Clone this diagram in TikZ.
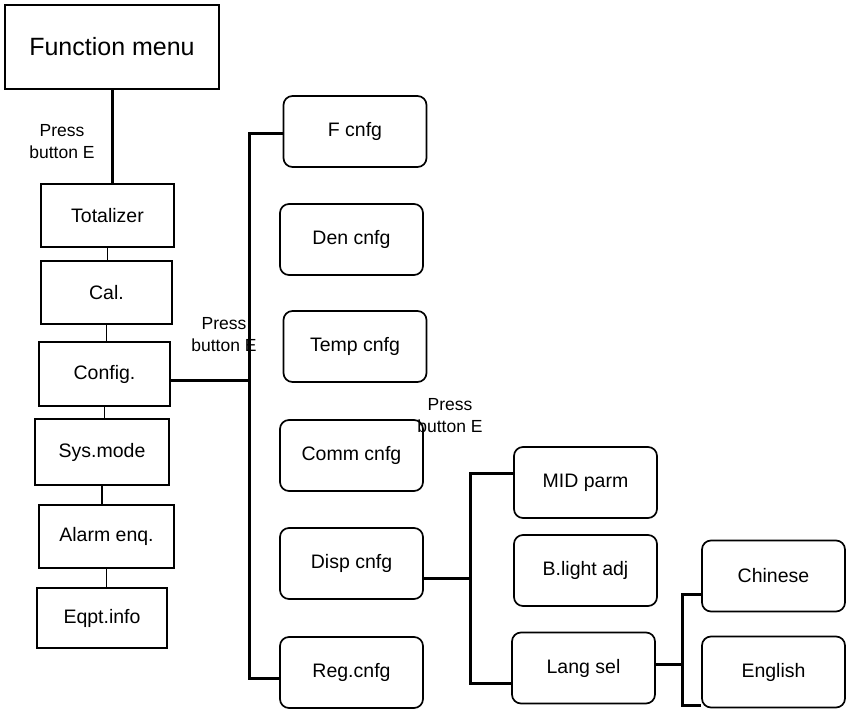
\documentclass[tikz,border=0pt]{standalone}
\usepackage{fontspec}
\setmainfont{Liberation Sans}
\begin{document}
\begin{tikzpicture}[x=1pt,y=-1pt,
  sqbox/.style={draw=black, line width=1.7pt, inner sep=0pt, font=\fontsize{19.5}{22}\selectfont},
  rbox/.style={draw=black, line width=1.7pt, rounded corners=9pt, inner sep=0pt, minimum width=143pt, minimum height=71pt, font=\fontsize{19.5}{22}\selectfont},
  thin/.style={line width=1.8pt},
  bus/.style={line width=3pt},
  lbl/.style={align=center, inner sep=0pt, font=\fontsize{17.5}{22}\selectfont}]
\useasboundingbox[fill=white] (0,0) rectangle (846,711);
% left column
\node[sqbox, minimum width=214pt, minimum height=84pt, font=\fontsize{25}{28}\selectfont] (fm) at (112,47) {Function menu};
\node[sqbox, minimum width=133pt, minimum height=63pt] (tot) at (107.5,215.5) {Totalizer};
\node[sqbox, minimum width=131pt, minimum height=63pt] (cal) at (106.5,292.5) {Cal.};
\node[sqbox, minimum width=131pt, minimum height=64pt] (cfg) at (104.5,374) {Config.};
\node[sqbox, minimum width=134pt, minimum height=66pt] (sys) at (102,452) {Sys.mode};
\node[sqbox, minimum width=135pt, minimum height=63pt] (alm) at (106.5,536.5) {Alarm enq.};
\node[sqbox, minimum width=130pt, minimum height=60pt] (eqp) at (102,618) {Eqpt.info};
% middle column
\node[rbox] (fc) at (355,131.5) {F cnfg};
\node[rbox] (den) at (351.5,239.5) {Den cnfg};
\node[rbox] (tmp) at (355,346.5) {Temp cnfg};
\node[rbox] (com) at (351.5,455.5) {Comm cnfg};
\node[rbox] (dc) at (351.5,563.5) {Disp cnfg};
\node[rbox] (rc) at (351.5,672.5) {Reg.cnfg};
% third column
\node[rbox] (mid) at (585.5,482.5) {MID parm};
\node[rbox] (bl) at (585.5,570.5) {B.light adj};
\node[rbox] (ls) at (583.5,668) {Lang sel};
% fourth column
\node[rbox] (ch) at (773.5,576) {Chinese};
\node[rbox] (en) at (773.5,672) {English};
% labels
\node[lbl] (p1) at (62,142) {Press\\button E};
\node[lbl] (p2) at (224,335) {Press\\button E};
\node[lbl] (p3) at (450,416) {Press\\button E};
% junction coordinates
\coordinate (b1t) at (249,134);
\coordinate (j1) at (249,380);
\coordinate (b1b) at (249,678);
\coordinate (b2t) at (470,473);
\coordinate (j2) at (470,578);
\coordinate (b2b) at (470,683);
\coordinate (b3t) at (682,594);
\coordinate (j3) at (682,664);
\coordinate (b3b) at (682,705);
% connectors
\draw[bus] (fm.south) -- (fm.south |- tot.north);
\draw[thin] (tot.south) -- (tot.south |- cal.north);
\draw[thin] (cal.south) -- (cal.south |- cfg.north);
\draw[thin] (cfg.south) -- (cfg.south |- sys.north);
\draw[thin] (sys.south) -- (sys.south |- alm.north);
\draw[thin] (alm.south) -- (alm.south |- eqp.north);
\draw[bus] (fc.west |- b1t) -- (b1t) -- (b1b) -- (rc.west |- b1b);
\draw[bus] (cfg.east |- j1) -- (j1);
\draw[bus] (mid.west |- b2t) -- (b2t) -- (b2b) -- (ls.west |- b2b);
\draw[bus] (dc.east |- j2) -- (j2);
\draw[bus] (ch.west |- b3t) -- (b3t) -- (b3b) -- (en.west |- b3b);
\draw[bus] (ls.east |- j3) -- (j3);
\end{tikzpicture}
\end{document}
